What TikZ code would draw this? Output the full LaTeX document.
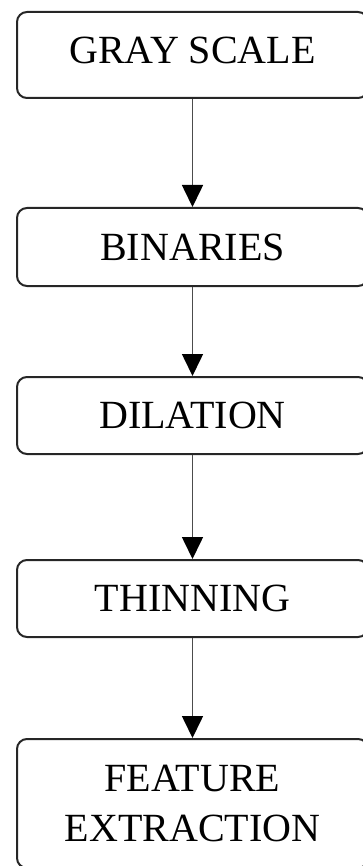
\documentclass[tikz,border=0pt]{standalone}
\usepackage{fontspec}
\setmainfont{Liberation Serif}
\usetikzlibrary{arrows.meta}
\begin{document}
\begin{tikzpicture}[x=1pt,y=-1pt,
  stage/.style={draw=black!85, line width=2pt, rounded corners=10pt,
    minimum width=351pt, align=center, inner sep=0pt,
    font=\fontsize{40}{50}\selectfont},
  flow/.style={draw=black!70, line width=1.6pt,
    -{Triangle[width=21pt,length=22pt,fill=black,color=black]}}]
\useasboundingbox (0,0) rectangle (363,866);
\node[stage, minimum height=86pt, text depth=10pt] (g) at (192.5,55) {GRAY SCALE};
\node[stage, minimum height=78pt] (b) at (192.5,247) {BINARIES};
\node[stage, minimum height=77pt] (d) at (192.5,415.5) {DILATION};
\node[stage, minimum height=77pt] (t) at (192.5,598.5) {THINNING};
\node[stage, minimum height=129pt] (f) at (192.5,803.5) {FEATURE\\EXTRACTION};
\draw[flow] (g) -- (b);
\draw[flow] (b) -- (d);
\draw[flow] (d) -- (t);
\draw[flow] (t) -- (f);
\end{tikzpicture}
\end{document}
